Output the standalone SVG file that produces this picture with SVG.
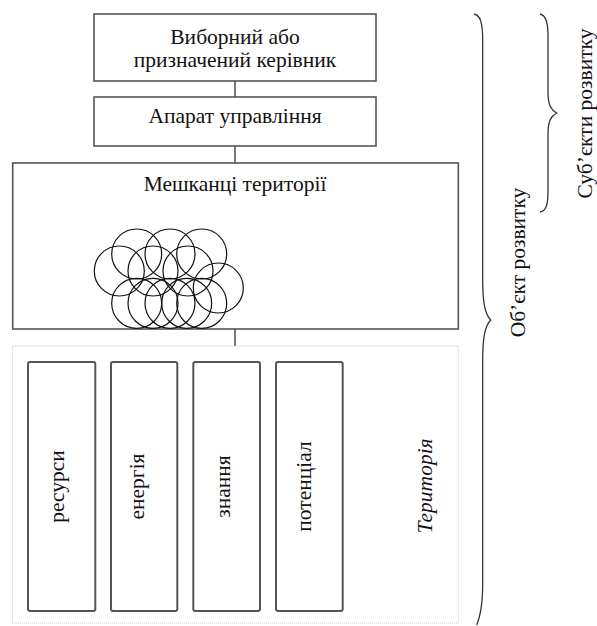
<svg xmlns="http://www.w3.org/2000/svg" width="597" height="626" viewBox="0 0 597 626">
<style>
.box{fill:#fff;stroke:#555;stroke-width:1.6}
.ibox{fill:#fff;stroke:#555;stroke-width:2}
.t{font-family:"Liberation Serif","Times New Roman",serif;font-size:21.5px;fill:#111}
.c{text-anchor:middle}
.circ{fill:none;stroke:#111;stroke-width:1.2}
.con{stroke:#555;stroke-width:1.6;fill:none}
.brace{stroke:#333;stroke-width:1.3;fill:none}
</style>
<rect width="597" height="626" fill="#fff"/>
<g id="connectors">
<line class="con" x1="235" y1="81" x2="235" y2="97"/>
<line class="con" x1="235" y1="146" x2="235" y2="163"/>
<line class="con" x1="235" y1="329" x2="235" y2="346"/>
</g>
<g id="territory">
<rect x="12.7" y="346" width="445.6" height="277" fill="none" stroke="#c4c4c4" stroke-width="1" stroke-dasharray="1,1"/>
<text class="t c" font-style="italic" transform="translate(432,486) rotate(-90)">Територія</text>
</g>
<g id="leader">
<rect class="box" x="94" y="14" width="282" height="67"/>
<text class="t c" x="235" y="43.5">Виборний або</text>
<text class="t c" x="235" y="67">призначений керівник</text>
</g>
<g id="apparatus">
<rect class="box" x="94" y="97" width="282" height="49"/>
<text class="t c" x="235" y="123">Апарат управління</text>
</g>
<g id="residents">
<rect class="box" x="12.7" y="163" width="445.6" height="166"/>
<text class="t c" x="235" y="191">Мешканці території</text>
<g id="crowd">
<circle class="circ" cx="136.7" cy="254" r="25"/>
<circle class="circ" cx="170" cy="254" r="25"/>
<circle class="circ" cx="201.7" cy="254" r="25"/>
<circle class="circ" cx="119.3" cy="271" r="25"/>
<circle class="circ" cx="153" cy="271" r="25"/>
<circle class="circ" cx="188" cy="271" r="25"/>
<circle class="circ" cx="218.3" cy="288" r="25"/>
<circle class="circ" cx="136.7" cy="303.3" r="25"/>
<circle class="circ" cx="153" cy="303.3" r="25"/>
<circle class="circ" cx="170" cy="303.3" r="25"/>
<circle class="circ" cx="186.7" cy="303.3" r="25"/>
<circle class="circ" cx="201.7" cy="303.3" r="25"/>
</g>
</g>
<g id="resources">
<rect class="ibox" x="28" y="362" width="67.3" height="249" rx="2"/>
<text class="t c" transform="translate(64,486.5) rotate(-90)">ресурси</text>
</g>
<g id="energy">
<rect class="ibox" x="111" y="362" width="66.3" height="249" rx="2"/>
<text class="t c" transform="translate(144,486.5) rotate(-90)">енергія</text>
</g>
<g id="knowledge">
<rect class="ibox" x="193.3" y="362" width="66.7" height="249" rx="2"/>
<text class="t c" transform="translate(230,486.5) rotate(-90)">знання</text>
</g>
<g id="potential">
<rect class="ibox" x="276" y="362" width="66.7" height="249" rx="2"/>
<text class="t c" transform="translate(311,486.5) rotate(-90)">потенціал</text>
</g>
<g id="object">
<path class="brace" d="M474,14 C480,15 482.7,22 482.7,40 L482.7,280 C482.7,303 485,314 490.7,320 C485,326 482.7,337 482.7,360 L482.7,583 C482.7,605 480,617 476.7,625"/>
<text class="t c" transform="translate(525,262.5) rotate(-90)">Об’єкт розвитку</text>
</g>
<g id="subjects">
<path class="brace" d="M540,14 C545,15 548,20 548,35 L548,92 C548,105 551,110 556.7,113 C551,116 548,121 548,134 L548,192 C548,207 545,211 540,212"/>
<text class="t c" transform="translate(592,113.5) rotate(-90)">Суб’єкти розвитку</text>
</g>
</svg>
